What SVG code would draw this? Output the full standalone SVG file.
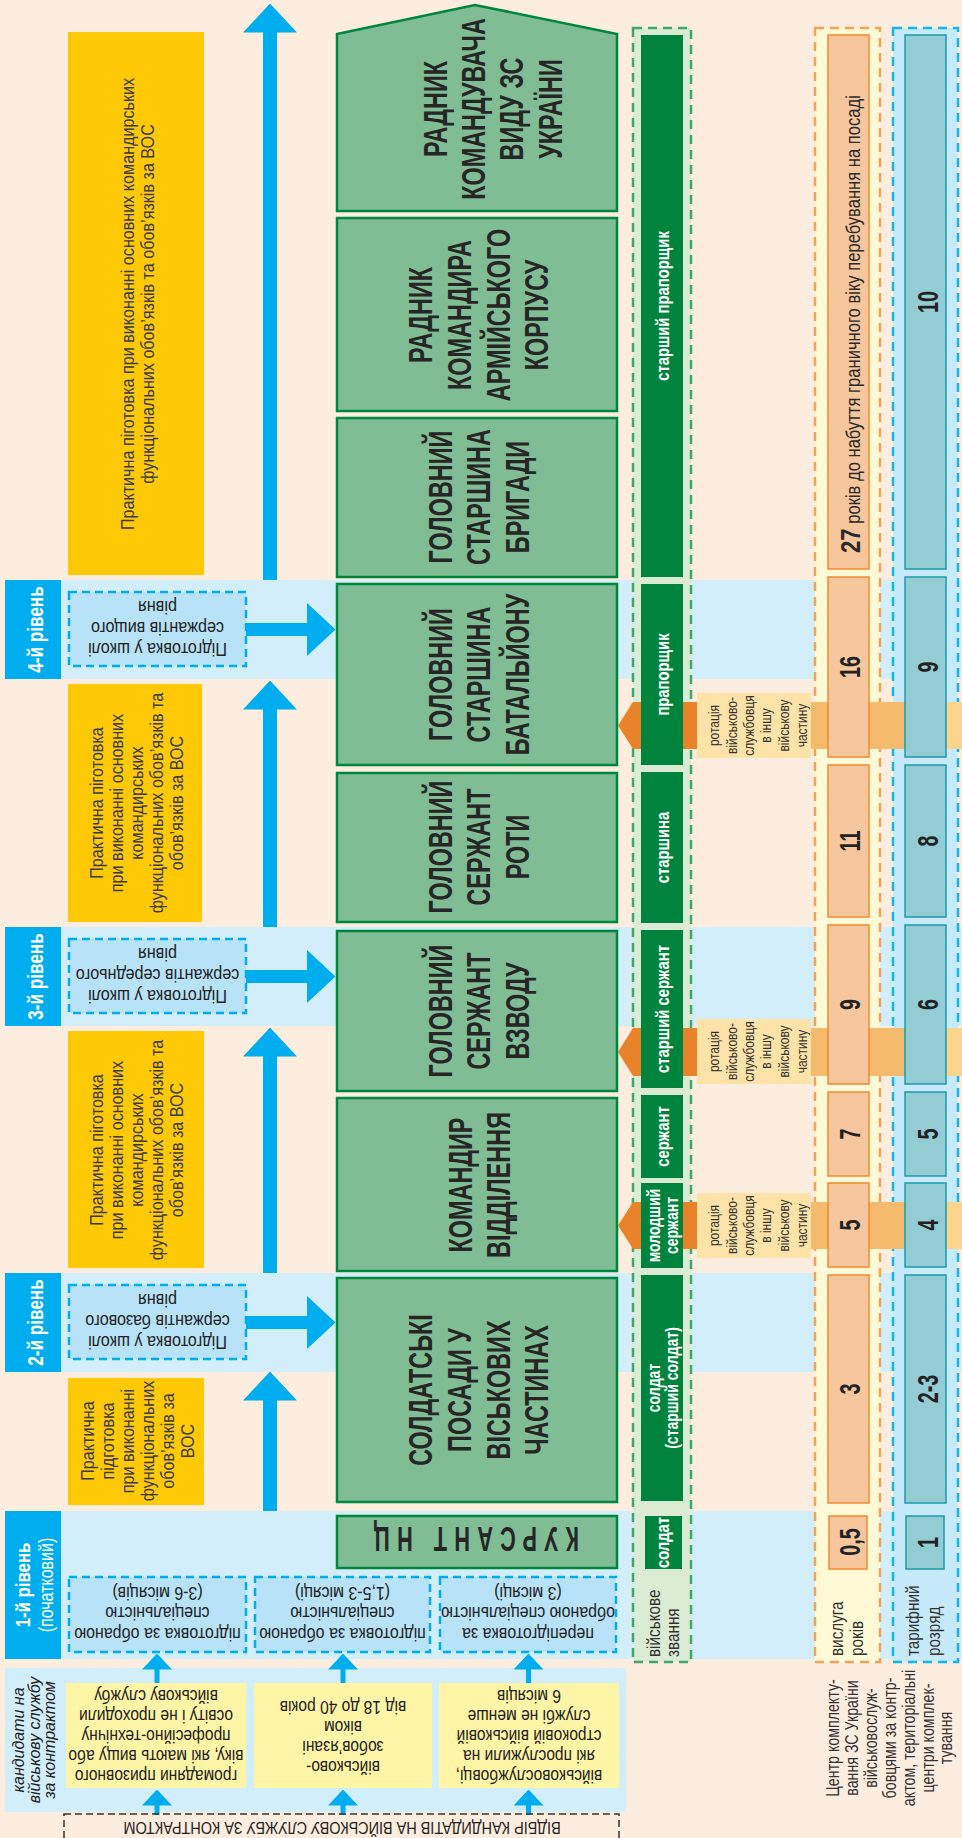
<svg xmlns="http://www.w3.org/2000/svg" width="962" height="1838" viewBox="0 0 962 1838" font-family="'Liberation Sans', Arial, sans-serif">
<defs>
<style>
.band{fill:#D2EEFA}
.lvl{fill:#00AEEF}
.lvt{fill:#fff;font-weight:bold;font-size:22px;text-anchor:middle}
.dbox{fill:#B7E2F8;stroke:#00AEEF;stroke-width:2.5;stroke-dasharray:8 5}
.prac{fill:#FFCA05}
.pt{fill:#3a3a3a;font-size:19px;text-anchor:middle}
.gbox{fill:#80BD95;stroke:#00873E;stroke-width:2.5}
.gt{fill:#262626;font-size:33px;font-weight:bold;text-anchor:middle}
.rank{fill:#00843D}
.rt{fill:#fff;font-size:19px;font-weight:bold;text-anchor:middle}
.obox{fill:#F6C79D;stroke:#EF8B30;stroke-width:1.5}
.tbox{fill:#93CCD3;stroke:#1C9AAA;stroke-width:1.5}
.num{fill:#222;font-size:29px;font-weight:bold;text-anchor:middle}
.cand{fill:#FFF5A6}
.ct{fill:#222;font-size:19px;text-anchor:middle}
.rot{fill:#FDE3A7}
.rott{fill:#333;font-size:15px;text-anchor:middle}
.hex{fill:#E9832A}
.rb1{fill:#F5BA6C}
.rb2{fill:#FDD48C}
.lab{fill:#333;font-size:18px}
.conn{stroke:#00AEEF;fill:none}
.col{stroke-width:2.5;stroke-dasharray:9 6}
</style>
<marker id="ah" markerUnits="userSpaceOnUse" viewBox="0 0 29 54" refX="0.5" refY="27" markerWidth="29" markerHeight="54" orient="auto"><path d="M0,0 L29,27 L0,54 Z" fill="#00AEEF"/></marker>
<marker id="ahs" markerUnits="userSpaceOnUse" viewBox="0 0 16 30" refX="0.5" refY="15" markerWidth="16" markerHeight="30" orient="auto"><path d="M0,0 L16,15 L0,30 Z" fill="#00AEEF"/></marker>
</defs>

<rect x="0" y="0" width="962" height="1838" fill="#FDEDDF"/>

<g id="bands">
<rect class="band" x="61" y="580" width="901" height="99"/>
<rect class="band" x="61" y="927" width="901" height="99"/>
<rect class="band" x="61" y="1273" width="901" height="99"/>
<rect class="band" x="61" y="1511" width="901" height="148"/>
<rect class="band" x="5" y="1668" width="621" height="144"/>
</g>

<g id="columns">
<rect class="col" x="633" y="28" width="58" height="1634" fill="#DBEBD4" stroke="#3CA96A"/>
<rect class="col" x="815" y="28" width="65" height="1634" fill="#FFF9D6" stroke="#F2A35A"/>
<rect class="col" x="893" y="28" width="65" height="1634" fill="#C6EAF9" stroke="#12B7EE"/>
</g>

<g id="practice-1">
<rect class="prac" x="68" y="32" width="136" height="543"/>
<text class="pt" transform="translate(0,304) rotate(-90) scale(0.85,1)"><tspan x="0" y="134">Практична піготовка при виконанні основних командирських</tspan><tspan x="0" y="154">функціональних обов’язків та обов’язків за ВОС</tspan></text>
</g>
<g id="practice-2">
<rect class="prac" x="68" y="684" width="134" height="238"/>
<text class="pt" transform="translate(0,803) rotate(-90) scale(0.85,1)"><tspan x="0" y="103">Практична піготовка</tspan><tspan x="0" y="123">при виконанні основних</tspan><tspan x="0" y="143">командирських</tspan><tspan x="0" y="163">функціональних обов’язків та</tspan><tspan x="0" y="183">обов’язків за ВОС</tspan></text>
</g>
<g id="practice-3">
<rect class="prac" x="68" y="1031" width="136" height="237"/>
<text class="pt" transform="translate(0,1150) rotate(-90) scale(0.85,1)"><tspan x="0" y="103">Практична піготовка</tspan><tspan x="0" y="123">при виконанні основних</tspan><tspan x="0" y="143">командирських</tspan><tspan x="0" y="163">функціональних обов’язків та</tspan><tspan x="0" y="183">обов’язків за ВОС</tspan></text>
</g>
<g id="practice-4">
<rect class="prac" x="68" y="1378" width="136" height="127"/>
<text class="pt" transform="translate(0,1441) rotate(-90) scale(0.85,1)"><tspan x="0" y="94">Практична</tspan><tspan x="0" y="114">підготовка</tspan><tspan x="0" y="134">при виконанні</tspan><tspan x="0" y="154">функціональних</tspan><tspan x="0" y="174">обов’язків за</tspan><tspan x="0" y="194">ВОС</tspan></text>
</g>

<g id="connectors">
<line class="conn" x1="270" y1="580" x2="270" y2="32" stroke-width="14" marker-end="url(#ah)"/>
<line class="conn" x1="270" y1="927" x2="270" y2="709" stroke-width="14" marker-end="url(#ah)"/>
<line class="conn" x1="270" y1="1273" x2="270" y2="1056" stroke-width="14" marker-end="url(#ah)"/>
<line class="conn" x1="270" y1="1511" x2="270" y2="1400" stroke-width="14" marker-end="url(#ah)"/>
<line class="conn" x1="246" y1="629.5" x2="307" y2="629.5" stroke-width="13" marker-end="url(#ah)"/>
<line class="conn" x1="246" y1="976.5" x2="307" y2="976.5" stroke-width="13" marker-end="url(#ah)"/>
<line class="conn" x1="246" y1="1322.5" x2="307" y2="1322.5" stroke-width="13" marker-end="url(#ah)"/>
<line class="conn" x1="157" y1="1683" x2="157" y2="1669" stroke-width="5" marker-end="url(#ahs)"/>
<line class="conn" x1="343" y1="1683" x2="343" y2="1669" stroke-width="5" marker-end="url(#ahs)"/>
<line class="conn" x1="528.5" y1="1683" x2="528.5" y2="1669" stroke-width="5" marker-end="url(#ahs)"/>
<line class="conn" x1="157" y1="1815" x2="157" y2="1805" stroke-width="5" marker-end="url(#ahs)"/>
<line class="conn" x1="343" y1="1815" x2="343" y2="1805" stroke-width="5" marker-end="url(#ahs)"/>
<line class="conn" x1="528.5" y1="1815" x2="528.5" y2="1805" stroke-width="5" marker-end="url(#ahs)"/>
</g>

<g id="level-4">
<rect class="lvl" x="5" y="580" width="56" height="99"/>
<text class="lvt" transform="translate(0,629.5) rotate(-90) scale(0.78,1)"><tspan x="0" y="43">4-й рівень</tspan></text>
</g>
<g id="level-3">
<rect class="lvl" x="5" y="927" width="56" height="99"/>
<text class="lvt" transform="translate(0,976.5) rotate(-90) scale(0.78,1)"><tspan x="0" y="43">3-й рівень</tspan></text>
</g>
<g id="level-2">
<rect class="lvl" x="5" y="1273" width="56" height="99"/>
<text class="lvt" transform="translate(0,1322.5) rotate(-90) scale(0.78,1)"><tspan x="0" y="43">2-й рівень</tspan></text>
</g>
<g id="level-1">
<rect class="lvl" x="5" y="1511" width="56" height="148"/>
<text class="lvt" transform="translate(0,1585) rotate(-90) scale(0.8,1)"><tspan x="0" y="30" style="font-size:21px">1-й рівень</tspan><tspan x="0" y="53" style="font-size:20px;font-weight:normal">(початковий)</tspan></text>
</g>

<g id="school-4">
<rect class="dbox" x="69" y="592" width="177" height="74"/>
<text class="ct" transform="translate(157.5,0) rotate(180) scale(0.85,1)"><tspan x="0" y="-643">Підготовка у школі</tspan><tspan x="0" y="-622">сержантів вищого</tspan><tspan x="0" y="-601">рівня</tspan></text>
</g>
<g id="school-3">
<rect class="dbox" x="69" y="939" width="177" height="74"/>
<text class="ct" transform="translate(157.5,0) rotate(180) scale(0.85,1)"><tspan x="0" y="-990">Підготовка у школі</tspan><tspan x="0" y="-969">сержантів середнього</tspan><tspan x="0" y="-948">рівня</tspan></text>
</g>
<g id="school-2">
<rect class="dbox" x="69" y="1285" width="177" height="74"/>
<text class="ct" transform="translate(157.5,0) rotate(180) scale(0.85,1)"><tspan x="0" y="-1336">Підготовка у школі</tspan><tspan x="0" y="-1315">сержантів базового</tspan><tspan x="0" y="-1294">рівня</tspan></text>
</g>
<g id="training-1a">
<rect class="dbox" x="69" y="1577" width="177" height="75"/>
<text class="ct" transform="translate(157.5,0) rotate(180) scale(0.84,1)"><tspan x="0" y="-1628">підготовка за обраною</tspan><tspan x="0" y="-1607">спеціальністю</tspan><tspan x="0" y="-1587">(3-6 місяців)</tspan></text>
</g>
<g id="training-1b">
<rect class="dbox" x="255" y="1577" width="175" height="75"/>
<text class="ct" transform="translate(342.5,0) rotate(180) scale(0.84,1)"><tspan x="0" y="-1628">підготовка за обраною</tspan><tspan x="0" y="-1607">спеціальністю</tspan><tspan x="0" y="-1587">(1,5-3 місяці)</tspan></text>
</g>
<g id="training-1c">
<rect class="dbox" x="440" y="1577" width="176" height="75"/>
<text class="ct" transform="translate(528,0) rotate(180) scale(0.84,1)"><tspan x="0" y="-1628">перепідготовка за</tspan><tspan x="0" y="-1607">обраною спеціальністю</tspan><tspan x="0" y="-1587">(3 місяці)</tspan></text>
</g>

<g id="pos-advisor-branch">
<polygon class="gbox" points="337,34 475,5 617,34 617,211 337,211"/>
<text class="gt" transform="translate(0,109) rotate(-90) scale(0.71,1)"><tspan x="0" y="447">РАДНИК</tspan><tspan x="0" y="485">КОМАНДУВАЧА</tspan><tspan x="0" y="523">ВИДУ ЗС</tspan><tspan x="0" y="562">УКРАЇНИ</tspan></text>
</g>
<g id="pos-advisor-corps">
<rect class="gbox" x="337" y="218" width="280" height="193"/>
<text class="gt" transform="translate(0,315) rotate(-90) scale(0.71,1)"><tspan x="0" y="432">РАДНИК</tspan><tspan x="0" y="471">КОМАНДИРА</tspan><tspan x="0" y="510">АРМІЙСЬКОГО</tspan><tspan x="0" y="548">КОРПУСУ</tspan></text>
</g>
<g id="pos-brigade">
<rect class="gbox" x="337" y="418" width="280" height="159"/>
<text class="gt" transform="translate(0,497) rotate(-90) scale(0.71,1)"><tspan x="0" y="452">ГОЛОВНИЙ</tspan><tspan x="0" y="490">СТАРШИНА</tspan><tspan x="0" y="529">БРИГАДИ</tspan></text>
</g>
<g id="pos-battalion">
<rect class="gbox" x="337" y="584" width="280" height="181"/>
<text class="gt" transform="translate(0,674.5) rotate(-90) scale(0.71,1)"><tspan x="0" y="452">ГОЛОВНИЙ</tspan><tspan x="0" y="490">СТАРШИНА</tspan><tspan x="0" y="529">БАТАЛЬЙОНУ</tspan></text>
</g>
<g id="pos-company">
<rect class="gbox" x="337" y="773" width="280" height="149"/>
<text class="gt" transform="translate(0,847) rotate(-90) scale(0.71,1)"><tspan x="0" y="452">ГОЛОВНИЙ</tspan><tspan x="0" y="490">СЕРЖАНТ</tspan><tspan x="0" y="529">РОТИ</tspan></text>
</g>
<g id="pos-platoon">
<rect class="gbox" x="337" y="931" width="280" height="160"/>
<text class="gt" transform="translate(0,1011) rotate(-90) scale(0.71,1)"><tspan x="0" y="452">ГОЛОВНИЙ</tspan><tspan x="0" y="490">СЕРЖАНТ</tspan><tspan x="0" y="529">ВЗВОДУ</tspan></text>
</g>
<g id="pos-squad">
<rect class="gbox" x="337" y="1098" width="280" height="173"/>
<text class="gt" transform="translate(0,1185) rotate(-90) scale(0.71,1)"><tspan x="0" y="472">КОМАНДИР</tspan><tspan x="0" y="510">ВІДДІЛЕННЯ</tspan></text>
</g>
<g id="pos-soldier">
<rect class="gbox" x="337" y="1278" width="280" height="224"/>
<text class="gt" transform="translate(0,1390) rotate(-90) scale(0.71,1)"><tspan x="0" y="432">СОЛДАТСЬКІ</tspan><tspan x="0" y="471">ПОСАДИ У</tspan><tspan x="0" y="510">ВІСЬКОВИХ</tspan><tspan x="0" y="548">ЧАСТИНАХ</tspan></text>
</g>
<g id="pos-cadet">
<rect class="gbox" x="337" y="1516" width="280" height="52"/>
<text class="gt" transform="translate(476.5,0) rotate(180) scale(0.62,1)" style="font-size:35px" textLength="331" lengthAdjust="spacing" x="0" y="-1527">КУРСАНТ НЦ</text>
</g>

<g id="rotation-1">
<path class="hex" d="M618,725.5 L633,702 L697,702 L697,749 L633,749 Z"/>
<rect class="rb1" x="697" y="702" width="208" height="47"/>
<rect class="rb2" x="905" y="702" width="57" height="47"/>
</g>
<g id="rotation-2">
<path class="hex" d="M618,1052 L633,1028 L697,1028 L697,1076 L633,1076 Z"/>
<rect class="rb1" x="697" y="1028" width="208" height="48"/>
<rect class="rb2" x="905" y="1028" width="57" height="48"/>
</g>
<g id="rotation-3">
<path class="hex" d="M618,1225.5 L633,1202 L697,1202 L697,1249 L633,1249 Z"/>
<rect class="rb1" x="697" y="1202" width="208" height="47"/>
<rect class="rb2" x="905" y="1202" width="57" height="47"/>
</g>

<g id="rank-senior-warrant">
<rect class="rank" x="641" y="35" width="42" height="542"/>
<text class="rt" transform="translate(0,306) rotate(-90) scale(0.78,1)"><tspan x="0" y="669">старший прапорщик</tspan></text>
</g>
<g id="rank-warrant">
<rect class="rank" x="641" y="584" width="42" height="181"/>
<text class="rt" transform="translate(0,674.5) rotate(-90) scale(0.78,1)"><tspan x="0" y="669">прапорщик</tspan></text>
</g>
<g id="rank-sergeant-major">
<rect class="rank" x="641" y="772" width="42" height="151"/>
<text class="rt" transform="translate(0,847.5) rotate(-90) scale(0.78,1)"><tspan x="0" y="669">старшина</tspan></text>
</g>
<g id="rank-senior-sergeant">
<rect class="rank" x="641" y="930" width="42" height="158"/>
<text class="rt" transform="translate(0,1009) rotate(-90) scale(0.78,1)"><tspan x="0" y="669">старший сержант</tspan></text>
</g>
<g id="rank-sergeant">
<rect class="rank" x="641" y="1095" width="42" height="83"/>
<text class="rt" transform="translate(0,1136.5) rotate(-90) scale(0.78,1)"><tspan x="0" y="669">сержант</tspan></text>
</g>
<g id="rank-junior-sergeant">
<rect class="rank" x="641" y="1183" width="42" height="85"/>
<text class="rt" transform="translate(0,1225.5) rotate(-90) scale(0.78,1)" style="font-size:18px"><tspan x="0" y="660">молодший</tspan><tspan x="0" y="678">сержант</tspan></text>
</g>
<g id="rank-soldier">
<rect class="rank" x="641" y="1275" width="42" height="226"/>
<text class="rt" transform="translate(0,1388) rotate(-90) scale(0.78,1)" style="font-size:18px"><tspan x="0" y="660">солдат</tspan><tspan x="0" y="678">(старший солдат)</tspan></text>
</g>
<g id="rank-private">
<rect class="rank" x="645" y="1516" width="37" height="53"/>
<text class="rt" transform="translate(0,1542.5) rotate(-90) scale(0.78,1)"><tspan x="0" y="669">солдат</tspan></text>
</g>
<g id="rank-header">
<text class="lab" transform="translate(0,1657) rotate(-90) scale(0.85,1)"><tspan x="0" y="660">військове</tspan><tspan x="0" y="679">звання</tspan></text>
</g>

<g id="rotation-labels">
<rect class="rot" x="697" y="693" width="114" height="65"/>
<text class="rott" transform="translate(0,725.5) rotate(-90) scale(0.8,1)"><tspan x="0" y="719">ротація</tspan><tspan x="0" y="737">військово-</tspan><tspan x="0" y="754">службовця</tspan><tspan x="0" y="771">в іншу</tspan><tspan x="0" y="789">військову</tspan><tspan x="0" y="807">частину</tspan></text>
<rect class="rot" x="697" y="1019" width="114" height="65"/>
<text class="rott" transform="translate(0,1051.5) rotate(-90) scale(0.8,1)"><tspan x="0" y="719">ротація</tspan><tspan x="0" y="737">військово-</tspan><tspan x="0" y="754">службовця</tspan><tspan x="0" y="771">в іншу</tspan><tspan x="0" y="789">військову</tspan><tspan x="0" y="807">частину</tspan></text>
<rect class="rot" x="697" y="1193" width="114" height="65"/>
<text class="rott" transform="translate(0,1225.5) rotate(-90) scale(0.8,1)"><tspan x="0" y="719">ротація</tspan><tspan x="0" y="737">військово-</tspan><tspan x="0" y="754">службовця</tspan><tspan x="0" y="771">в іншу</tspan><tspan x="0" y="789">військову</tspan><tspan x="0" y="807">частину</tspan></text>
</g>

<g id="service-years">
<rect class="obox" x="828" y="35" width="41" height="534"/>
<text transform="translate(0,553) rotate(-90) scale(0.79,1)" style="fill:#2a2a2a;font-size:21px"><tspan x="0" y="860" style="font-weight:bold;font-size:28px">27</tspan> років до набуття граничного віку перебування на посаді</text>
<rect class="obox" x="828" y="577" width="41" height="180"/>
<text class="num" transform="translate(0,667) rotate(-90) scale(0.68,1)"><tspan x="0" y="860">16</tspan></text>
<rect class="obox" x="828" y="765" width="41" height="152"/>
<text class="num" transform="translate(0,841) rotate(-90) scale(0.68,1)"><tspan x="0" y="860">11</tspan></text>
<rect class="obox" x="828" y="925" width="41" height="159"/>
<text class="num" transform="translate(0,1004.5) rotate(-90) scale(0.68,1)"><tspan x="0" y="860">9</tspan></text>
<rect class="obox" x="828" y="1092" width="41" height="84"/>
<text class="num" transform="translate(0,1134) rotate(-90) scale(0.68,1)"><tspan x="0" y="860">7</tspan></text>
<rect class="obox" x="828" y="1183" width="41" height="84"/>
<text class="num" transform="translate(0,1225) rotate(-90) scale(0.68,1)"><tspan x="0" y="860">5</tspan></text>
<rect class="obox" x="828" y="1275" width="41" height="228"/>
<text class="num" transform="translate(0,1389) rotate(-90) scale(0.68,1)"><tspan x="0" y="860">3</tspan></text>
<rect class="obox" x="829" y="1516" width="38" height="53"/>
<text class="num" transform="translate(0,1542) rotate(-90) scale(0.68,1)"><tspan x="0" y="860">0,5</tspan></text>
<text class="lab" transform="translate(0,1656) rotate(-90) scale(0.85,1)"><tspan x="0" y="843">вислуга</tspan><tspan x="0" y="863">років</tspan></text>
</g>

<g id="pay-grade">
<rect class="tbox" x="905" y="35" width="41" height="534"/>
<text class="num" transform="translate(0,302) rotate(-90) scale(0.68,1)"><tspan x="0" y="938">10</tspan></text>
<rect class="tbox" x="905" y="577" width="41" height="180"/>
<text class="num" transform="translate(0,667) rotate(-90) scale(0.68,1)"><tspan x="0" y="938">9</tspan></text>
<rect class="tbox" x="905" y="765" width="41" height="152"/>
<text class="num" transform="translate(0,841) rotate(-90) scale(0.68,1)"><tspan x="0" y="938">8</tspan></text>
<rect class="tbox" x="905" y="925" width="41" height="159"/>
<text class="num" transform="translate(0,1004.5) rotate(-90) scale(0.68,1)"><tspan x="0" y="938">6</tspan></text>
<rect class="tbox" x="905" y="1092" width="41" height="84"/>
<text class="num" transform="translate(0,1134) rotate(-90) scale(0.68,1)"><tspan x="0" y="938">5</tspan></text>
<rect class="tbox" x="905" y="1183" width="41" height="84"/>
<text class="num" transform="translate(0,1225) rotate(-90) scale(0.68,1)"><tspan x="0" y="938">4</tspan></text>
<rect class="tbox" x="905" y="1275" width="41" height="228"/>
<text class="num" transform="translate(0,1389) rotate(-90) scale(0.68,1)"><tspan x="0" y="938">2-3</tspan></text>
<rect class="tbox" x="906" y="1516" width="38" height="53"/>
<text class="num" transform="translate(0,1542.5) rotate(-90) scale(0.68,1)"><tspan x="0" y="938">1</tspan></text>
<text class="lab" transform="translate(0,1656) rotate(-90) scale(0.85,1)"><tspan x="0" y="919">тарифний</tspan><tspan x="0" y="940">розряд</tspan></text>
</g>

<g id="recruitment-centres">
<text class="lab" transform="translate(0,1738) rotate(-90) scale(0.79,1)" style="text-anchor:middle"><tspan x="0" y="839">Центр комплекту-</tspan><tspan x="0" y="858">вання ЗС України</tspan><tspan x="0" y="877">військовослуж-</tspan><tspan x="0" y="896">бовцями за контр-</tspan><tspan x="0" y="915">актом, територіальні</tspan><tspan x="0" y="934">центри комплек-</tspan><tspan x="0" y="952">тування</tspan></text>
</g>

<g id="candidates-label">
<text transform="translate(0,1740) rotate(-90)" style="font-size:16px;font-style:italic;fill:#222;text-anchor:middle"><tspan x="0" y="24">кандидати на</tspan><tspan x="0" y="39.5">військову службу</tspan><tspan x="0" y="55">за контрактом</tspan></text>
</g>
<g id="candidate-civilians">
<rect class="cand" x="66" y="1683" width="180" height="105"/>
<text class="ct" transform="translate(156,0) rotate(180) scale(0.82,1)"><tspan x="0" y="-1770">громадяни призовного</tspan><tspan x="0" y="-1750">віку, які мають вищу або</tspan><tspan x="0" y="-1730">професійно-технічну</tspan><tspan x="0" y="-1710">освіту і не проходили</tspan><tspan x="0" y="-1690">військову службу</tspan></text>
</g>
<g id="candidate-reservists">
<rect class="cand" x="254" y="1683" width="178" height="105"/>
<text class="ct" transform="translate(343,0) rotate(180) scale(0.82,1)"><tspan x="0" y="-1761">військово-</tspan><tspan x="0" y="-1741">зобов’язані</tspan><tspan x="0" y="-1721">віком</tspan><tspan x="0" y="-1701">від 18 до 40 років</tspan></text>
</g>
<g id="candidate-conscripts">
<rect class="cand" x="439" y="1683" width="180" height="105"/>
<text class="ct" transform="translate(529,0) rotate(180) scale(0.82,1)"><tspan x="0" y="-1770">військовослужбовці,</tspan><tspan x="0" y="-1750">які прослужили на</tspan><tspan x="0" y="-1730">строковій військовій</tspan><tspan x="0" y="-1710">службі не менше</tspan><tspan x="0" y="-1690">6 місяців</tspan></text>
</g>

<g id="selection">
<rect x="64" y="1814" width="555" height="40" fill="none" stroke="#333" stroke-width="1.5" stroke-dasharray="7 4"/>
<text class="ct" transform="translate(342,0) rotate(180) scale(0.85,1)" style="font-size:17px"><tspan x="0" y="-1822">ВІДБІР КАНДИДАТІВ НА ВІЙСЬКОВУ СЛУЖБУ ЗА КОНТРАКТОМ</tspan></text>
</g>
</svg>
